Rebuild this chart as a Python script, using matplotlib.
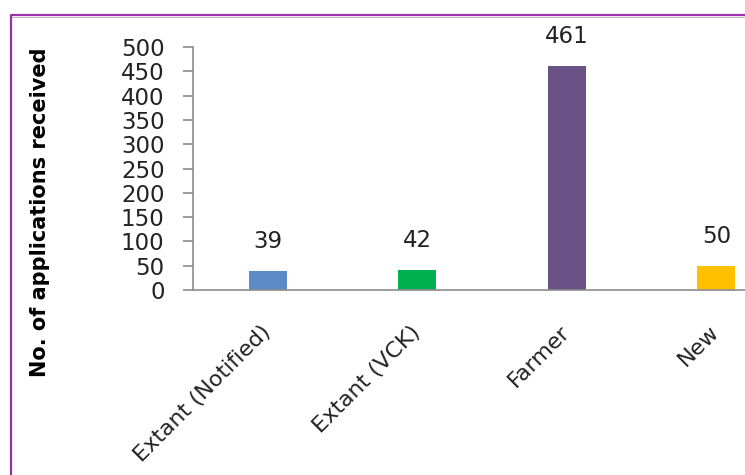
import matplotlib
matplotlib.use("Agg")
import matplotlib.pyplot as plt
from matplotlib.transforms import ScaledTranslation
from matplotlib.lines import Line2D

categories = ["Extant (Notified)", "Extant (VCK)", "Farmer", "New"]
values = [39, 42, 461, 50]
colors = ["#5B8BC7", "#00B050", "#6A5286", "#FFC000"]
yticks = [0, 50, 100, 150, 200, 250, 300, 350, 400, 450, 500]
ylabel = "No. of applications received"

W, H = 745, 475
fig = plt.figure(figsize=(W / 100, H / 100), dpi=100)
fig.patch.set_facecolor("white")

# axes extends beyond right edge (image is cropped in the reference)
left, right, bottom, top = 193, 791, 290, 47
ax = fig.add_axes([left / W, 1 - bottom / H, (right - left) / W, (bottom - top) / H])
ax.set_facecolor("none")

x = list(range(len(categories)))
ax.bar(x, values, width=0.255, color=colors)
ax.set_xlim(-0.5, len(categories) - 0.5)
ax.set_ylim(0, 500)
ax.set_yticks(yticks)
ax.set_yticklabels([str(v) for v in yticks], fontsize=16.5, color="#222222")

for xi, v in zip(x, values):
    ax.annotate(str(v), (xi, v), xytext=(0, 13), textcoords="offset points",
                ha="center", va="bottom", fontsize=16.5, color="#222222")

for s in ["top", "right"]:
    ax.spines[s].set_visible(False)
for s in ["left", "bottom"]:
    ax.spines[s].set_color("#8C8C8C")
    ax.spines[s].set_linewidth(1.2)

ax.tick_params(axis="y", length=7.5, width=1.2, color="#8C8C8C", pad=13)
ax.tick_params(axis="x", length=0, pad=23)
ax.set_xticks(x)
ax.set_xticklabels(categories, rotation=45, ha="right", va="top",
                   fontsize=16, color="#222222")
for lab in ax.get_xticklabels():
    lab.set_transform(lab.get_transform() + ScaledTranslation(7 / 100, 0, fig.dpi_scale_trans))

fig.text(40 / W, 1 - 212 / H, ylabel, rotation=90, ha="center", va="center",
         fontsize=15, fontweight="bold", color="black")

# purple border
fig.add_artist(Line2D([10.5 / W, 10.5 / W, 1.0], [0.0, 1 - 15 / H, 1 - 15 / H],
                      transform=fig.transFigure, color="#9B30A8", linewidth=1.6))
fig.add_artist(Line2D([12 / W, 1.0], [1 - 16.8 / H, 1 - 16.8 / H],
                      transform=fig.transFigure, color="#BBBBBB", linewidth=0.8))

fig.savefig("out.png", dpi=100)
